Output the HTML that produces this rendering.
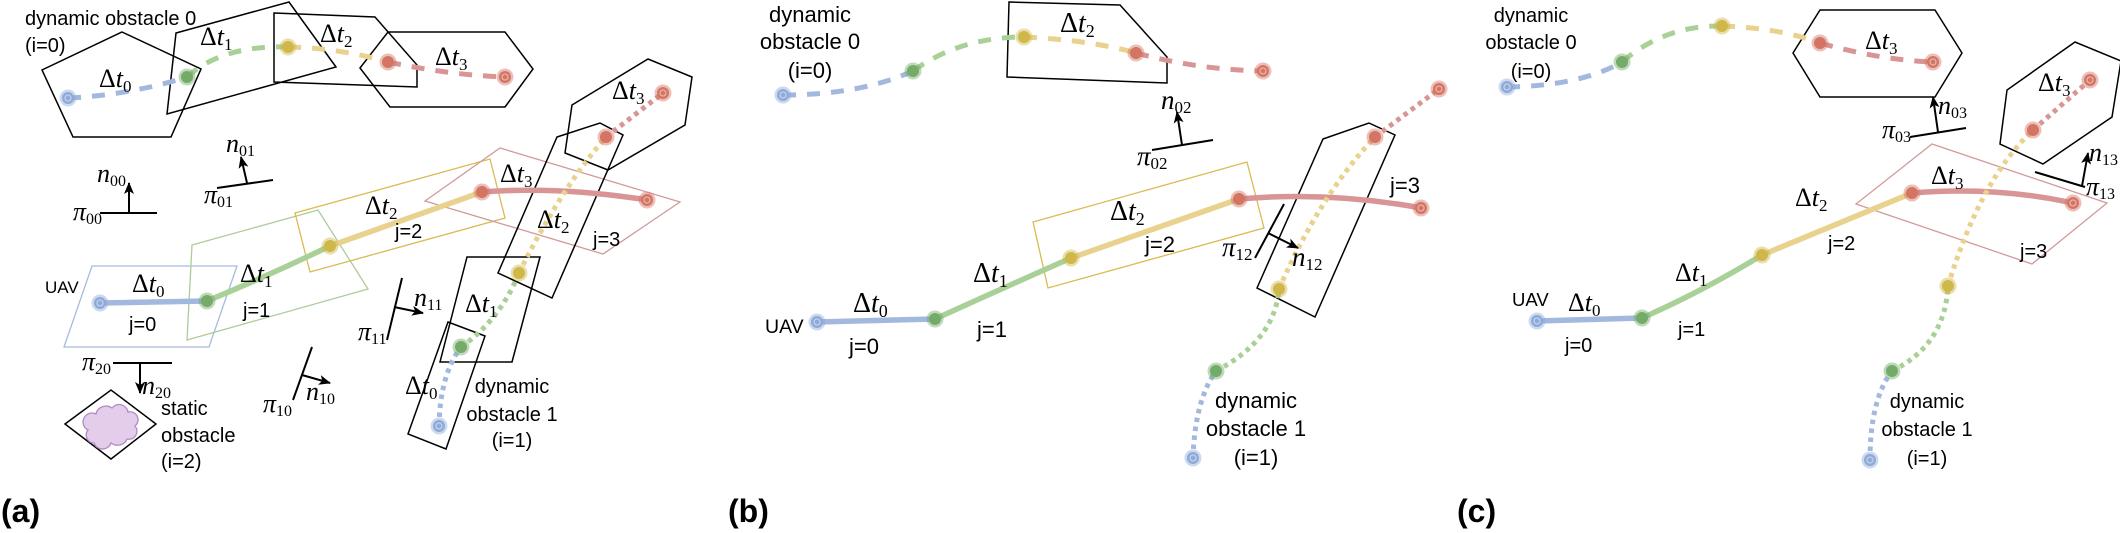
<!DOCTYPE html>
<html>
<head>
<meta charset="utf-8">
<style>
html,body{margin:0;padding:0;background:#fff;}
svg{display:block;}
.s{font-family:"Liberation Sans",Arial,sans-serif;fill:#000;}
.m{font-family:"Liberation Serif","DejaVu Serif",serif;fill:#000;}
.poly{fill:none;stroke:#000;stroke-width:1.5;stroke-linejoin:miter;}
.pl{stroke:#000;stroke-width:2;fill:none;}
.ar{stroke:#000;stroke-width:2;fill:none;marker-end:url(#ah);}
.dB{fill:none;stroke:#a3b8de;stroke-width:5;stroke-dasharray:13 11;}
.dG{fill:none;stroke:#a9d097;stroke-width:5;stroke-dasharray:13 11;}
.dY{fill:none;stroke:#e8d28e;stroke-width:5;stroke-dasharray:13 11;}
.dR{fill:none;stroke:#d99595;stroke-width:5;stroke-dasharray:13 11;}
.oB{fill:none;stroke:#a3b8de;stroke-width:5;stroke-dasharray:4.5 4.5;}
.oG{fill:none;stroke:#a9d097;stroke-width:5;stroke-dasharray:4.5 4.5;}
.oY{fill:none;stroke:#e8d28e;stroke-width:5;stroke-dasharray:4.5 4.5;}
.oR{fill:none;stroke:#d99595;stroke-width:5;stroke-dasharray:4.5 4.5;}
.sB{fill:none;stroke:#a3b8de;stroke-width:5.5;stroke-linecap:round;}
.sG{fill:none;stroke:#a9d097;stroke-width:5.5;stroke-linecap:round;}
.sY{fill:none;stroke:#e8d28e;stroke-width:5.5;stroke-linecap:round;}
.sR{fill:none;stroke:#d99595;stroke-width:5.5;stroke-linecap:round;}
.cB{fill:#8eaad9;} .cG{fill:#74ab68;} .cY{fill:#cfb74a;} .cR{fill:#d47462;}
.h{opacity:0.45;}
.ring{fill:none;stroke:#fff;stroke-opacity:0.45;stroke-width:1.3;}
</style>
</head>
<body>
<svg width="2120" height="533" viewBox="0 0 2120 533" xmlns="http://www.w3.org/2000/svg">
<defs>
<marker id="ah" markerWidth="12" markerHeight="12" refX="11" refY="6" orient="auto" markerUnits="userSpaceOnUse">
<path d="M0,1 L12,6 L0,11 L3,6 z" fill="#000"/>
</marker>
</defs>
<rect width="2120" height="533" fill="#fff"/>

<!-- ================= PANEL (a) ================= -->
<polygon points="92,266 237,266 209,347 64,347" fill="none" stroke="#a7bbdd" stroke-width="1.3"/>
<polygon points="192,245 318,210 368,289 187,340" fill="none" stroke="#aecb99" stroke-width="1.3"/>
<polygon points="295,213 490,159 505,218 310,272" fill="none" stroke="#d9bb52" stroke-width="1.3"/>
<polygon points="425,201 500,148 680,202 603,254" fill="none" stroke="#d29a9a" stroke-width="1.3"/>

<polygon class="poly" points="122,32 201,69 171,137 73,137 42,70"/>
<polygon class="poly" points="176,33 289,2 336,67 167,114"/>
<polygon class="poly" points="274,13 375,17 417,65 417,87 274,82"/>
<polygon class="poly" points="360,68 388,32 505,32 533,69 505,107 390,107"/>

<polygon class="poly" points="448,322 485,336 446,449 408,434"/>
<polygon class="poly" points="467,257 540,257 512,362 440,362"/>
<polygon class="poly" points="557,137 600,123 623,135 552,298 498,273"/>
<polygon class="poly" points="572,105 648,59 692,77 685,125 608,170 565,153"/>

<polygon class="poly" points="65,424 111,390 156,424 111,459"/>
<path d="M94,443 a8,8 0 0 1 -6,-13 a8,8 0 0 1 8,-16 a10,9 0 0 1 16,-6 a9,9 0 0 1 16,4 a8,8 0 0 1 7,14 a8,8 0 0 1 -8,13 a10,9 0 0 1 -16,4 a9,9 0 0 1 -17,0 z" fill="#e4cdea" stroke="#b08cc4" stroke-width="1.3"/>

<path class="dB" d="M68,98 Q130,95 187,77"/>
<path class="dG" d="M187,77 Q222,45 288,47"/>
<path class="dY" d="M288,47 Q340,48 388,62"/>
<path class="dR" d="M388,62 Q450,75 505,77"/>
<path class="sB" d="M100,303 L207,301"/>
<path class="sG" d="M207,301 Q270,275 330,246"/>
<path class="sY" d="M330,246 L482,192"/>
<path class="sR" d="M482,192 Q560,186 647,200"/>
<path class="oB" d="M439,426 Q440,375 461,347"/>
<path class="oG" d="M461,347 Q500,320 519,273"/>
<path class="oY" d="M519,273 Q560,190 606,137"/>
<path class="oR" d="M606,137 L663,93"/>

<g>
<circle class="cB h" cx="68" cy="98" r="8.5"/><circle class="cB" cx="68" cy="98" r="6"/><circle class="ring" cx="68" cy="98" r="3"/>
<circle class="cG h" cx="187" cy="77" r="8.5"/><circle class="cG" cx="187" cy="77" r="6"/>
<circle class="cY h" cx="288" cy="47" r="8.5"/><circle class="cY" cx="288" cy="47" r="6"/>
<circle class="cR h" cx="388" cy="62" r="8.5"/><circle class="cR" cx="388" cy="62" r="6"/>
<circle class="cR h" cx="505" cy="77" r="8.5"/><circle class="cR" cx="505" cy="77" r="6"/><circle class="ring" cx="505" cy="77" r="3"/>

<circle class="cB h" cx="100" cy="303" r="8.5"/><circle class="cB" cx="100" cy="303" r="6"/><circle class="ring" cx="100" cy="303" r="3"/>
<circle class="cG h" cx="207" cy="301" r="8.5"/><circle class="cG" cx="207" cy="301" r="6"/>
<circle class="cY h" cx="330" cy="246" r="8.5"/><circle class="cY" cx="330" cy="246" r="6"/>
<circle class="cR h" cx="482" cy="192" r="8.5"/><circle class="cR" cx="482" cy="192" r="6"/>
<circle class="cR h" cx="647" cy="200" r="8.5"/><circle class="cR" cx="647" cy="200" r="6"/><circle class="ring" cx="647" cy="200" r="3"/>

<circle class="cB h" cx="439" cy="426" r="8.5"/><circle class="cB" cx="439" cy="426" r="6"/><circle class="ring" cx="439" cy="426" r="3"/>
<circle class="cG h" cx="461" cy="347" r="8.5"/><circle class="cG" cx="461" cy="347" r="6"/>
<circle class="cY h" cx="519" cy="273" r="8.5"/><circle class="cY" cx="519" cy="273" r="6"/>
<circle class="cR h" cx="606" cy="137" r="8.5"/><circle class="cR" cx="606" cy="137" r="6"/>
<circle class="cR h" cx="663" cy="93" r="8.5"/><circle class="cR" cx="663" cy="93" r="6"/><circle class="ring" cx="663" cy="93" r="3"/>
</g>

<line class="pl" x1="100" y1="213" x2="157" y2="213"/><line class="ar" x1="129" y1="213" x2="129" y2="183"/>
<line class="pl" x1="217" y1="188" x2="273" y2="180"/><line class="ar" x1="247" y1="183" x2="241" y2="157"/>
<line class="pl" x1="402" y1="278" x2="387" y2="340"/><line class="ar" x1="394" y1="307" x2="423" y2="313"/>
<line class="pl" x1="312" y1="347" x2="293" y2="400"/><line class="ar" x1="302" y1="375" x2="330" y2="383"/>
<line class="pl" x1="113" y1="363" x2="172" y2="363"/><line class="ar" x1="140" y1="363" x2="140" y2="393"/>

<g class="m" font-size="26">
<text x="99" y="87">Δ<tspan font-style="italic">t</tspan><tspan font-size="17" dy="5">0</tspan></text>
<text x="200" y="45">Δ<tspan font-style="italic">t</tspan><tspan font-size="17" dy="5">1</tspan></text>
<text x="320" y="42">Δ<tspan font-style="italic">t</tspan><tspan font-size="17" dy="5">2</tspan></text>
<text x="435" y="65">Δ<tspan font-style="italic">t</tspan><tspan font-size="17" dy="5">3</tspan></text>
<text x="132" y="292">Δ<tspan font-style="italic">t</tspan><tspan font-size="17" dy="5">0</tspan></text>
<text x="240" y="282">Δ<tspan font-style="italic">t</tspan><tspan font-size="17" dy="5">1</tspan></text>
<text x="365" y="214">Δ<tspan font-style="italic">t</tspan><tspan font-size="17" dy="5">2</tspan></text>
<text x="500" y="182">Δ<tspan font-style="italic">t</tspan><tspan font-size="17" dy="5">3</tspan></text>
<text x="405" y="394">Δ<tspan font-style="italic">t</tspan><tspan font-size="17" dy="5">0</tspan></text>
<text x="465" y="312">Δ<tspan font-style="italic">t</tspan><tspan font-size="17" dy="5">1</tspan></text>
<text x="537" y="228">Δ<tspan font-style="italic">t</tspan><tspan font-size="17" dy="5">2</tspan></text>
<text x="612" y="99">Δ<tspan font-style="italic">t</tspan><tspan font-size="17" dy="5">3</tspan></text>
</g>
<g class="m" font-size="26" font-style="italic">
<text x="97" y="182">n<tspan font-style="normal" font-size="16" dy="4">00</tspan></text>
<text x="73" y="220">π<tspan font-style="normal" font-size="16" dy="4">00</tspan></text>
<text x="226" y="152">n<tspan font-style="normal" font-size="16" dy="4">01</tspan></text>
<text x="204" y="203">π<tspan font-style="normal" font-size="16" dy="4">01</tspan></text>
<text x="414" y="306">n<tspan font-style="normal" font-size="16" dy="4">11</tspan></text>
<text x="358" y="340">π<tspan font-style="normal" font-size="16" dy="4">11</tspan></text>
<text x="306" y="400">n<tspan font-style="normal" font-size="16" dy="4">10</tspan></text>
<text x="263" y="412">π<tspan font-style="normal" font-size="16" dy="4">10</tspan></text>
<text x="82" y="370">π<tspan font-style="normal" font-size="16" dy="4">20</tspan></text>
<text x="142" y="394">n<tspan font-style="normal" font-size="16" dy="4">20</tspan></text>
</g>

<g class="s" font-size="20">
<text x="25" y="25">dynamic obstacle 0</text>
<text x="25" y="52">(i=0)</text>
<text x="45" y="293" font-size="17">UAV</text>
<text x="129" y="331">j=0</text>
<text x="243" y="317">j=1</text>
<text x="395" y="238">j=2</text>
<text x="593" y="246">j=3</text>
<text x="161" y="415">static</text>
<text x="161" y="442">obstacle</text>
<text x="161" y="468">(i=2)</text>
<text x="512" y="393" text-anchor="middle">dynamic</text>
<text x="512" y="421" text-anchor="middle">obstacle 1</text>
<text x="512" y="447" text-anchor="middle">(i=1)</text>
</g>
<text class="s" x="1" y="522" font-size="32" font-weight="bold">(a)</text>

<!-- ================= PANEL (b) ================= -->
<polygon points="1033,222 1247,162 1264,228 1048,288" fill="none" stroke="#d9bb52" stroke-width="1.3"/>
<polygon class="poly" points="1009,2 1120,5 1167,57 1167,83 1007,77"/>
<polygon class="poly" points="1323,139 1369,123 1395,135 1315,317 1257,288"/>

<path class="dB" d="M783,95 Q860,95 913,71"/>
<path class="dG" d="M913,71 Q960,37 1024,37"/>
<path class="dY" d="M1024,37 Q1090,40 1136,53"/>
<path class="dR" d="M1136,53 Q1200,70 1263,71"/>
<path class="sB" d="M817,322 L935,319"/>
<path class="sG" d="M935,319 Q1010,285 1071,258"/>
<path class="sY" d="M1071,258 L1239,199"/>
<path class="sR" d="M1239,199 Q1330,191 1421,208"/>
<path class="oB" d="M1193,458 Q1195,400 1216,371"/>
<path class="oG" d="M1216,371 Q1275,340 1279,289"/>
<path class="oY" d="M1279,289 Q1320,195 1375,137"/>
<path class="oR" d="M1375,137 L1439,89"/>

<g>
<circle class="cB h" cx="783" cy="95" r="8.5"/><circle class="cB" cx="783" cy="95" r="6"/><circle class="ring" cx="783" cy="95" r="3"/>
<circle class="cG h" cx="913" cy="71" r="8.5"/><circle class="cG" cx="913" cy="71" r="6"/>
<circle class="cY h" cx="1024" cy="37" r="8.5"/><circle class="cY" cx="1024" cy="37" r="6"/>
<circle class="cR h" cx="1136" cy="53" r="8.5"/><circle class="cR" cx="1136" cy="53" r="6"/>
<circle class="cR h" cx="1263" cy="71" r="8.5"/><circle class="cR" cx="1263" cy="71" r="6"/><circle class="ring" cx="1263" cy="71" r="3"/>

<circle class="cB h" cx="817" cy="322" r="8.5"/><circle class="cB" cx="817" cy="322" r="6"/><circle class="ring" cx="817" cy="322" r="3"/>
<circle class="cG h" cx="935" cy="319" r="8.5"/><circle class="cG" cx="935" cy="319" r="6"/>
<circle class="cY h" cx="1071" cy="258" r="8.5"/><circle class="cY" cx="1071" cy="258" r="6"/>
<circle class="cR h" cx="1239" cy="199" r="8.5"/><circle class="cR" cx="1239" cy="199" r="6"/>
<circle class="cR h" cx="1421" cy="208" r="8.5"/><circle class="cR" cx="1421" cy="208" r="6"/><circle class="ring" cx="1421" cy="208" r="3"/>

<circle class="cB h" cx="1193" cy="458" r="8.5"/><circle class="cB" cx="1193" cy="458" r="6"/><circle class="ring" cx="1193" cy="458" r="3"/>
<circle class="cG h" cx="1216" cy="371" r="8.5"/><circle class="cG" cx="1216" cy="371" r="6"/>
<circle class="cY h" cx="1279" cy="289" r="8.5"/><circle class="cY" cx="1279" cy="289" r="6"/>
<circle class="cR h" cx="1375" cy="137" r="8.5"/><circle class="cR" cx="1375" cy="137" r="6"/>
<circle class="cR h" cx="1439" cy="89" r="8.5"/><circle class="cR" cx="1439" cy="89" r="6"/><circle class="ring" cx="1439" cy="89" r="3"/>
</g>

<line class="pl" x1="1152" y1="150" x2="1213" y2="140"/><line class="ar" x1="1182" y1="145" x2="1177" y2="112"/>
<line class="pl" x1="1284" y1="204" x2="1255" y2="258"/><line class="ar" x1="1268" y1="233" x2="1298" y2="248"/>

<g class="m" font-size="28">
<text x="1060" y="32">Δ<tspan font-style="italic">t</tspan><tspan font-size="18" dy="5">2</tspan></text>
<text x="853" y="312">Δ<tspan font-style="italic">t</tspan><tspan font-size="18" dy="5">0</tspan></text>
<text x="973" y="282">Δ<tspan font-style="italic">t</tspan><tspan font-size="18" dy="5">1</tspan></text>
<text x="1110" y="220">Δ<tspan font-style="italic">t</tspan><tspan font-size="18" dy="5">2</tspan></text>
</g>
<g class="m" font-size="27" font-style="italic">
<text x="1161" y="109">n<tspan font-style="normal" font-size="17" dy="4">02</tspan></text>
<text x="1137" y="165">π<tspan font-style="normal" font-size="17" dy="4">02</tspan></text>
<text x="1222" y="256">π<tspan font-style="normal" font-size="17" dy="4">12</tspan></text>
<text x="1292" y="266">n<tspan font-style="normal" font-size="17" dy="4">12</tspan></text>
</g>
<g class="s" font-size="22">
<text x="810" y="22" text-anchor="middle">dynamic</text>
<text x="810" y="49" text-anchor="middle">obstacle 0</text>
<text x="810" y="78" text-anchor="middle">(i=0)</text>
<text x="765" y="333" font-size="19.5">UAV</text>
<text x="849" y="354">j=0</text>
<text x="977" y="337">j=1</text>
<text x="1145" y="252">j=2</text>
<text x="1390" y="193">j=3</text>
<text x="1256" y="408" text-anchor="middle">dynamic</text>
<text x="1256" y="436" text-anchor="middle">obstacle 1</text>
<text x="1256" y="465" text-anchor="middle">(i=1)</text>
</g>
<text class="s" x="728" y="522" font-size="32" font-weight="bold">(b)</text>

<!-- ================= PANEL (c) ================= -->
<polygon points="1856,204 1932,144 2107,203 2032,264" fill="none" stroke="#d29a9a" stroke-width="1.3"/>
<polygon class="poly" points="1793,53 1820,10 1935,10 1962,53 1935,97 1820,97"/>
<polygon class="poly" points="2000,144 2007,90 2075,42 2121,61 2112,117 2043,164"/>

<path class="dB" d="M1507,87 Q1580,86 1622,62"/>
<path class="dG" d="M1622,62 Q1665,25 1722,26"/>
<path class="dY" d="M1722,26 Q1780,28 1820,43"/>
<path class="dR" d="M1820,43 Q1880,60 1933,62"/>
<path class="sB" d="M1537,321 L1642,318"/>
<path class="sG" d="M1642,318 Q1705,290 1762,255"/>
<path class="sY" d="M1762,255 L1912,193"/>
<path class="sR" d="M1912,193 Q1995,186 2073,203"/>
<path class="oB" d="M1870,460 Q1870,400 1892,371"/>
<path class="oG" d="M1892,371 Q1945,345 1948,286"/>
<path class="oY" d="M1948,286 Q1980,180 2033,130"/>
<path class="oR" d="M2033,130 L2090,80"/>

<g>
<circle class="cB h" cx="1507" cy="87" r="8.5"/><circle class="cB" cx="1507" cy="87" r="6"/><circle class="ring" cx="1507" cy="87" r="3"/>
<circle class="cG h" cx="1622" cy="62" r="8.5"/><circle class="cG" cx="1622" cy="62" r="6"/>
<circle class="cY h" cx="1722" cy="26" r="8.5"/><circle class="cY" cx="1722" cy="26" r="6"/>
<circle class="cR h" cx="1820" cy="43" r="8.5"/><circle class="cR" cx="1820" cy="43" r="6"/>
<circle class="cR h" cx="1933" cy="62" r="8.5"/><circle class="cR" cx="1933" cy="62" r="6"/><circle class="ring" cx="1933" cy="62" r="3"/>

<circle class="cB h" cx="1537" cy="321" r="8.5"/><circle class="cB" cx="1537" cy="321" r="6"/><circle class="ring" cx="1537" cy="321" r="3"/>
<circle class="cG h" cx="1642" cy="318" r="8.5"/><circle class="cG" cx="1642" cy="318" r="6"/>
<circle class="cY h" cx="1762" cy="255" r="8.5"/><circle class="cY" cx="1762" cy="255" r="6"/>
<circle class="cR h" cx="1912" cy="193" r="8.5"/><circle class="cR" cx="1912" cy="193" r="6"/>
<circle class="cR h" cx="2073" cy="203" r="8.5"/><circle class="cR" cx="2073" cy="203" r="6"/><circle class="ring" cx="2073" cy="203" r="3"/>

<circle class="cB h" cx="1870" cy="460" r="8.5"/><circle class="cB" cx="1870" cy="460" r="6"/><circle class="ring" cx="1870" cy="460" r="3"/>
<circle class="cG h" cx="1892" cy="371" r="8.5"/><circle class="cG" cx="1892" cy="371" r="6"/>
<circle class="cY h" cx="1948" cy="286" r="8.5"/><circle class="cY" cx="1948" cy="286" r="6"/>
<circle class="cR h" cx="2033" cy="130" r="8.5"/><circle class="cR" cx="2033" cy="130" r="6"/>
<circle class="cR h" cx="2090" cy="80" r="8.5"/><circle class="cR" cx="2090" cy="80" r="6"/><circle class="ring" cx="2090" cy="80" r="3"/>
</g>

<line class="pl" x1="1910" y1="137" x2="1966" y2="128"/><line class="ar" x1="1938" y1="132" x2="1933" y2="97"/>
<line class="pl" x1="2035" y1="172" x2="2085" y2="187"/><line class="ar" x1="2082" y1="186" x2="2088" y2="153"/>

<g class="m" font-size="26">
<text x="1865" y="49">Δ<tspan font-style="italic">t</tspan><tspan font-size="17" dy="5">3</tspan></text>
<text x="1568" y="311">Δ<tspan font-style="italic">t</tspan><tspan font-size="17" dy="5">0</tspan></text>
<text x="1675" y="281">Δ<tspan font-style="italic">t</tspan><tspan font-size="17" dy="5">1</tspan></text>
<text x="1795" y="206">Δ<tspan font-style="italic">t</tspan><tspan font-size="17" dy="5">2</tspan></text>
<text x="1931" y="184">Δ<tspan font-style="italic">t</tspan><tspan font-size="17" dy="5">3</tspan></text>
<text x="2038" y="91">Δ<tspan font-style="italic">t</tspan><tspan font-size="17" dy="5">3</tspan></text>
</g>
<g class="m" font-size="26" font-style="italic">
<text x="1938" y="114">n<tspan font-style="normal" font-size="16" dy="4">03</tspan></text>
<text x="1882" y="138">π<tspan font-style="normal" font-size="16" dy="4">03</tspan></text>
<text x="2089" y="161">n<tspan font-style="normal" font-size="16" dy="4">13</tspan></text>
<text x="2086" y="195">π<tspan font-style="normal" font-size="16" dy="4">13</tspan></text>
</g>
<g class="s" font-size="20">
<text x="1531" y="22" text-anchor="middle">dynamic</text>
<text x="1531" y="49" text-anchor="middle">obstacle 0</text>
<text x="1531" y="78" text-anchor="middle">(i=0)</text>
<text x="1512" y="306" font-size="18.5">UAV</text>
<text x="1565" y="352">j=0</text>
<text x="1678" y="336">j=1</text>
<text x="1828" y="250">j=2</text>
<text x="2020" y="258">j=3</text>
<text x="1927" y="408" text-anchor="middle">dynamic</text>
<text x="1927" y="436" text-anchor="middle">obstacle 1</text>
<text x="1927" y="465" text-anchor="middle">(i=1)</text>
</g>
<text class="s" x="1457" y="522" font-size="32" font-weight="bold">(c)</text>
</svg>
</body>
</html>
